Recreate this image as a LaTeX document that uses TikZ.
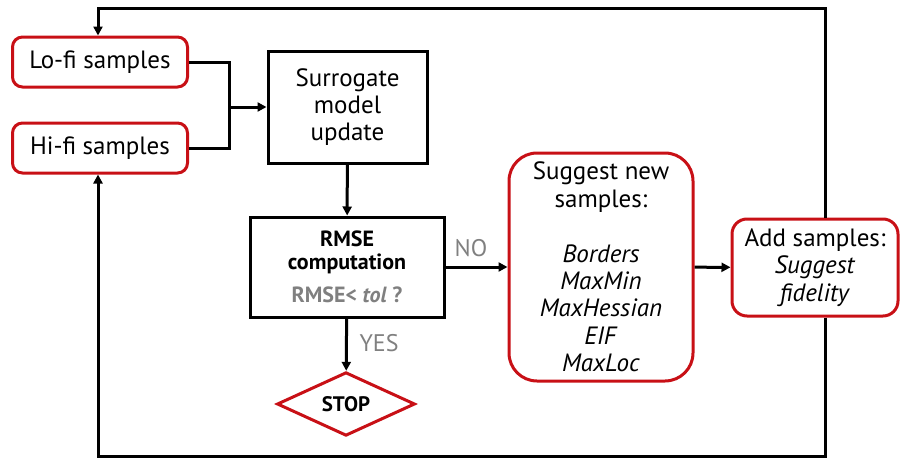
\documentclass[tikz,border=0pt]{standalone}
\usepackage{fontspec}
\setmainfont{PT Sans}
\usetikzlibrary{arrows.meta,shapes.geometric,positioning}
\definecolor{rougeb}{RGB}{200,16,22}
\definecolor{gris}{RGB}{128,128,128}
\begin{document}
\begin{tikzpicture}[
      x=1pt, y=-1pt,
      line width=3pt,
      >={Triangle[length=9pt,width=9pt]},
      texte/.style={
        font=\fontsize{25}{27.4}\selectfont,
        align=center,
        inner sep=0pt
      },
      echant/.style={
        texte,
        draw=rougeb,
        rounded corners=10pt,
        minimum width=175pt,
        minimum height=50pt
      },
      bloc/.style={
        texte,
        draw
      },
      etiq/.style={
        texte,
        font=\fontsize{24}{27}\selectfont,
        text=gris
      }
    ]
    \useasboundingbox (0,0) rectangle (906,458);
    \node[echant] (lofi) at (100,62) {Lo-fi samples} ;
    \node[echant] (hifi) at (100,148) {Hi-fi samples} ;
    \node[bloc, minimum width=159pt, minimum height=112pt] (surr) at (347.5,107) {Surrogate\\model\\update} ;
    \node[bloc, minimum width=194pt, minimum height=100pt,
      font=\fontsize{22}{23}\bfseries] (rmse) at (347,267)
      {RMSE\\computation\\[10pt]{\color{gris}RMSE< \textit{tol} ?}} ;
    \node[diamond, draw=rougeb, minimum width=138pt, minimum height=59pt,
      inner sep=0pt, font=\fontsize{21}{22}\bfseries] (stop) at (346,404) {STOP} ;
    \node[echant, rounded corners=28pt, minimum width=184pt, minimum height=228pt] (sugg) at (601,267)
      {Suggest new\\samples:\\[27.4pt]\textit{Borders}\\\textit{MaxMin}\\\textit{MaxHessian}\\\textit{EIF}\\\textit{MaxLoc}} ;
    \node[echant, rounded corners=15pt, minimum width=166pt, minimum height=97pt] (add) at (815,267.5)
      {Add samples:\\\textit{Suggest}\\\textit{fidelity}} ;
    \node[etiq] (no) at (471,248) {NO} ;
    \node[etiq] (yes) at (379,343) {YES} ;
    % liaisons
    \coordinate (jct) at (229,107);
    \coordinate (hg) at (98,8);
    \coordinate (hd) at (825,8);
    \coordinate (bd) at (825,456);
    \coordinate (bg) at (98,456);
    \draw (lofi.east) -| (jct) ;
    \draw (hifi.east) -| (jct) ;
    \draw[->] (jct) -- (surr.west) ;
    \draw[->] (surr) -- (rmse) ;
    \draw[->] (rmse) -- (stop) ;
    \draw[->] (rmse) -- (sugg) ;
    \draw[->] (sugg) -- (add) ;
    \draw[->] (hd |- add.north) -- (hd) -- (hg) -- (hg |- lofi.north) ;
    \draw[->] (bd |- add.south) -- (bd) -- (bg) -- (bg |- hifi.south) ;
  \end{tikzpicture}
\end{document}
